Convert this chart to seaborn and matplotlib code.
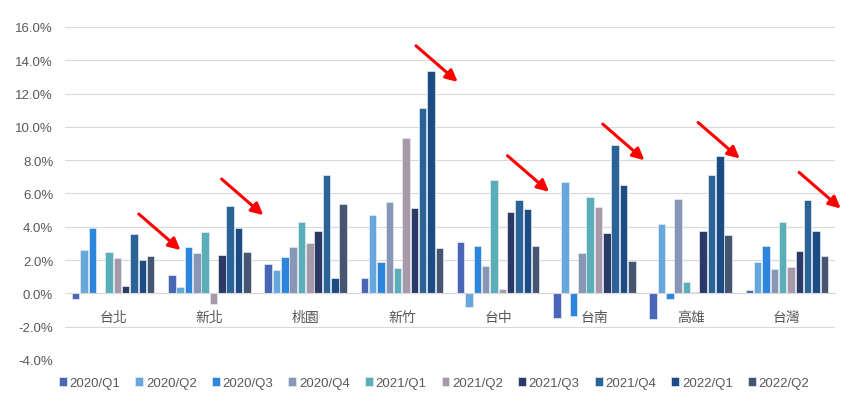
import pandas as pd
import matplotlib
matplotlib.use("Agg")
import matplotlib.pyplot as plt
import seaborn as sns
from matplotlib.ticker import FuncFormatter

# Regions and quarters
regions = ["台北", "新北", "桃園", "新竹", "台中", "台南", "高雄", "台灣"]
quarters = ["2020/Q1", "2020/Q2", "2020/Q3", "2020/Q4", "2021/Q1",
            "2021/Q2", "2021/Q3", "2021/Q4", "2022/Q1", "2022/Q2"]

# Growth (%) per region, one list per region in quarter order
taipei = [-0.34, 2.6, 3.9, 0.0, 2.5, 2.14, 0.46, 3.54, 1.98, 2.22]
new_taipei = [1.08, 0.36, 2.8, 2.44, 3.66, -0.66, 2.3, 5.26, 3.94, 2.48]
taoyuan = [1.74, 1.4, 2.2, 2.76, 4.26, 3.02, 3.74, 7.14, 0.9, 5.34]
hsinchu = [0.9, 4.68, 1.9, 5.46, 1.54, 9.34, 5.14, 11.16, 13.34, 2.74]
taichung = [3.1, -0.8, 2.82, 1.66, 6.82, 0.26, 4.86, 5.58, 5.06, 2.86]
tainan = [-1.46, 6.72, -1.34, 2.4, 5.76, 5.18, 3.64, 8.94, 6.52, 1.92]
kaohsiung = [-1.56, 4.14, -0.34, 5.64, 0.66, 0.08, 3.76, 7.1, 8.24, 3.52]
taiwan = [0.2, 1.86, 2.86, 1.46, 4.26, 1.58, 2.54, 5.58, 3.76, 2.22]

series = [taipei, new_taipei, taoyuan, hsinchu, taichung, tainan, kaohsiung, taiwan]

colors = ["#4a67b5", "#66a8dc", "#2d86de", "#8797b5", "#5badb7",
          "#a799a9", "#2c3a67", "#2c6397", "#1d4c85", "#465570"]

# red arrows drawn on the chart (tip position: group index, value)
arrow_tips = [(0.70, 2.6), (1.56, 4.7), (3.58, 12.7), (4.53, 6.1),
              (5.52, 8.0), (6.51, 8.1), (7.56, 5.1)]

rows = []
for region, vals in zip(regions, series):
    for q, v in zip(quarters, vals):
        rows.append({"region": region, "quarter": q, "value": v})
df = pd.DataFrame(rows)

sns.set_style("white")
plt.rcParams["font.family"] = ["Liberation Sans", "Noto Sans CJK TC", "DejaVu Sans"]

fig = plt.figure(figsize=(8.57, 4.06), dpi=100)
ax = fig.add_axes([65 / 857, 1 - 361 / 406, 770 / 857, 333 / 406])

sns.barplot(data=df, x="region", y="value", hue="quarter", order=regions,
            hue_order=quarters, palette=colors, saturation=1, width=0.865, gap=0.1,
            edgecolor="#e6ecf4", linewidth=0.5, ax=ax)

ax.set_ylim(-4, 16)
ax.set_yticks(range(-4, 17, 2))
ax.yaxis.set_major_formatter(FuncFormatter(lambda v, _: f"{v:.1f}%"))
ax.set_xlim(-0.5, len(regions) - 0.5)
ax.grid(axis="y", color="#d9d9d9", linewidth=0.8)
ax.set_axisbelow(True)
for s in ["top", "right", "left"]:
    ax.spines[s].set_visible(False)
ax.spines["bottom"].set_position(("data", 0))
ax.spines["bottom"].set_color("#d9d9d9")
ax.spines["bottom"].set_linewidth(0.8)
ax.tick_params(axis="y", length=0, pad=8.5, labelsize=9.5, labelcolor="#595959")
ax.tick_params(axis="x", length=0, pad=12, labelsize=10, labelcolor="#595959")
ax.set_xlabel("")
ax.set_ylabel("")

# Legend across the bottom
handles, labels = ax.get_legend_handles_labels()
ax.legend_.remove()
fig.legend(handles, labels, loc="center", bbox_to_anchor=(434 / 857, 1 - 384 / 406),
           ncol=len(quarters), frameon=False, fontsize=9.5, handlelength=0.6,
           handleheight=0.6, handletextpad=0.2, columnspacing=1.15,
           labelcolor="#595959")

# Red arrows
for x, y in arrow_tips:
    ax.annotate("", xy=(x, y), xytext=(-30, 26), textcoords="offset points",
                annotation_clip=False,
                arrowprops=dict(arrowstyle="-|>,head_length=0.7,head_width=0.35",
                                color="#ff0000", lw=2.2, shrinkA=0, shrinkB=0))

plt.savefig("out.png", dpi=100)
